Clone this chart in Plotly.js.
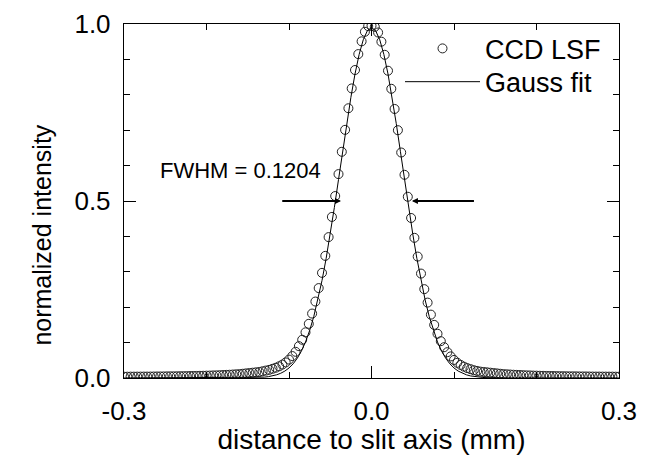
<!DOCTYPE html>
<html>
<head>
<meta charset="utf-8">
<script src="https://cdn.plot.ly/plotly-3.0.1.min.js"></script>
<style>html,body{margin:0;padding:0;background:#fff;}#chart{width:646px;height:455px;}</style>
</head>
<body>
<div id="chart"></div>
<script>
// Measured line-spread-function (CCD LSF), x in mm
const lsfX = [-0.300,-0.296,-0.292,-0.288,-0.284,-0.280,-0.276,-0.272,-0.268,-0.264,-0.260,-0.256,-0.252,-0.248,-0.244,-0.240,-0.236,-0.232,-0.228,-0.224,-0.220,-0.216,-0.212,-0.208,-0.204,-0.200,-0.196,-0.192,-0.188,-0.184,-0.180,-0.176,-0.172,-0.168,-0.164,-0.160,-0.156,-0.152,-0.148,-0.144,-0.140,-0.136,-0.132,-0.128,-0.124,-0.120,-0.116,-0.112,-0.108,-0.104,-0.100,-0.096,-0.092,-0.088,-0.084,-0.080,-0.076,-0.072,-0.068,-0.064,-0.060,-0.056,-0.052,-0.048,-0.044,-0.040,-0.036,-0.032,-0.028,-0.024,-0.020,-0.016,-0.012,-0.008,-0.004,0.000,0.004,0.008,0.012,0.016,0.020,0.024,0.028,0.032,0.036,0.040,0.044,0.048,0.052,0.056,0.060,0.064,0.068,0.072,0.076,0.080,0.084,0.088,0.092,0.096,0.100,0.104,0.108,0.112,0.116,0.120,0.124,0.128,0.132,0.136,0.140,0.144,0.148,0.152,0.156,0.160,0.164,0.168,0.172,0.176,0.180,0.184,0.188,0.192,0.196,0.200,0.204,0.208,0.212,0.216,0.220,0.224,0.228,0.232,0.236,0.240,0.244,0.248,0.252,0.256,0.260,0.264,0.268,0.272,0.276,0.280,0.284,0.288,0.292,0.296,0.300];
const lsfY = [0.0037,0.0037,0.0038,0.0038,0.0039,0.0039,0.0040,0.0040,0.0041,0.0042,0.0043,0.0044,0.0045,0.0046,0.0047,0.0048,0.0049,0.0050,0.0052,0.0053,0.0055,0.0057,0.0058,0.0061,0.0063,0.0066,0.0068,0.0072,0.0075,0.0079,0.0083,0.0088,0.0092,0.0098,0.0104,0.011,0.012,0.013,0.014,0.015,0.016,0.017,0.019,0.021,0.023,0.026,0.029,0.033,0.038,0.044,0.052,0.062,0.074,0.090,0.108,0.129,0.153,0.182,0.216,0.254,0.297,0.345,0.398,0.455,0.514,0.576,0.639,0.701,0.762,0.818,0.870,0.915,0.951,0.978,0.994,0.995,0.992,0.976,0.950,0.913,0.868,0.817,0.760,0.700,0.637,0.574,0.512,0.452,0.396,0.343,0.295,0.251,0.213,0.179,0.150,0.125,0.104,0.087,0.073,0.061,0.051,0.043,0.037,0.032,0.028,0.025,0.022,0.020,0.018,0.017,0.016,0.015,0.014,0.013,0.012,0.011,0.0104,0.0098,0.0092,0.0088,0.0083,0.0079,0.0075,0.0072,0.0068,0.0066,0.0063,0.0061,0.0058,0.0057,0.0055,0.0053,0.0052,0.0050,0.0049,0.0048,0.0047,0.0046,0.0045,0.0044,0.0043,0.0042,0.0041,0.0040,0.0040,0.0039,0.0039,0.0038,0.0038,0.0037,0.0037];
// Gauss fit curve
const fitX = [-0.300,-0.150,-0.145,-0.140,-0.135,-0.130,-0.125,-0.120,-0.115,-0.110,-0.105,-0.100,-0.095,-0.090,-0.085,-0.080,-0.075,-0.070,-0.065,-0.060,-0.055,-0.050,-0.045,-0.040,-0.035,-0.030,-0.025,-0.020,-0.015,-0.010,-0.005,0.000,0.005,0.010,0.015,0.020,0.025,0.030,0.035,0.040,0.045,0.050,0.055,0.060,0.065,0.070,0.075,0.080,0.085,0.090,0.095,0.100,0.105,0.110,0.115,0.120,0.125,0.130,0.135,0.140,0.145,0.150,0.300];
const fitY = [0.0,0.0003,0.0006,0.0009,0.0015,0.0024,0.0038,0.0059,0.0090,0.0134,0.0196,0.0283,0.0400,0.0556,0.0758,0.1017,0.1340,0.1734,0.2204,0.2753,0.3377,0.4070,0.4819,0.5605,0.6404,0.7189,0.7927,0.8588,0.9139,0.9554,0.9812,0.9900,0.9812,0.9554,0.9139,0.8588,0.7927,0.7189,0.6404,0.5605,0.4819,0.4070,0.3377,0.2753,0.2204,0.1734,0.1340,0.1017,0.0758,0.0556,0.0400,0.0283,0.0196,0.0134,0.0090,0.0059,0.0038,0.0024,0.0015,0.0009,0.0006,0.0003,0.0];
const seriesNames = ["CCD LSF", "Gauss fit"];
const fwhmText = "FWHM = 0.1204";
const halfLevel = 0.5;
const arrowLeft = {tip: -0.037, tail: -0.110};
const arrowRight = {tip: 0.049, tail: 0.126};

const FONT = "Liberation Sans, Arial, Helvetica, sans-serif";

const traces = [
  {x: lsfX, y: lsfY, name: seriesNames[0], type: 'scatter', mode: 'markers', legend: 'legend',
   marker: {symbol: 'circle-open', size: 9, color: '#222', line: {width: 1, color: '#222'}}},
  {x: fitX, y: fitY, name: seriesNames[1], type: 'scatter', mode: 'lines', legend: 'legend2',
   line: {color: '#000', width: 1}}
];

const axisCommon = {
  showline: true, linecolor: '#000', linewidth: 1, mirror: 'allticks',
  ticks: 'inside', ticklen: 12, tickwidth: 1, tickcolor: '#000',
  showgrid: false, zeroline: false, tickmode: 'linear', tick0: 0, tickformat: '.1f',
  tickfont: {family: FONT, size: 26, color: '#000'},
  minor: {ticks: 'inside', ticklen: 6, tickwidth: 1, tickcolor: '#000', tick0: 0, dtick: 0.1, showgrid: false}
};

const legendCommon = {xanchor: 'left', yanchor: 'top', bgcolor: 'rgba(0,0,0,0)',
  font: {family: FONT, size: 27, color: '#000'}, itemwidth: 75};

const layout = {
  width: 646, height: 455,
  margin: {l: 124, r: 27, t: 24, b: 77},
  paper_bgcolor: '#fff', plot_bgcolor: '#fff',
  showlegend: true,
  legend: Object.assign({x: 0.5576, y: 0.999}, legendCommon),
  legend2: Object.assign({x: 0.5576, y: 0.905}, legendCommon),
  xaxis: Object.assign({}, axisCommon, {
    range: [-0.3, 0.3], dtick: 0.3, ticklabelstandoff: 10,
    labelalias: {'\u22120.3': '-0.3'},
    title: {text: 'distance to slit axis (mm)', font: {family: FONT, size: 28, color: '#000'}, standoff: 2}
  }),
  yaxis: Object.assign({}, axisCommon, {
    range: [0, 1], dtick: 0.5, ticksuffix: '\u00a0',
    title: {text: ''}
  }),
  annotations: [
    {x: -0.1657, y: 0.405, xref: 'paper', yref: 'paper', text: 'normalized intensity', textangle: -90,
     showarrow: false, font: {family: FONT, size: 25, color: '#000'}, xanchor: 'center', yanchor: 'middle'},
    {x: -0.159, y: 0.585, xref: 'x', yref: 'y', text: fwhmText, showarrow: false,
     font: {family: FONT, size: 22, color: '#000'}, xanchor: 'center', yanchor: 'middle'},
    {x: arrowLeft.tip, y: halfLevel, ax: arrowLeft.tail, ay: halfLevel, xref: 'x', yref: 'y', axref: 'x', ayref: 'y',
     text: '', showarrow: true, arrowhead: 2, arrowsize: 0.6, arrowwidth: 2, arrowcolor: '#000'},
    {x: arrowRight.tip, y: halfLevel, ax: arrowRight.tail, ay: halfLevel, xref: 'x', yref: 'y', axref: 'x', ayref: 'y',
     text: '', showarrow: true, arrowhead: 2, arrowsize: 0.6, arrowwidth: 2, arrowcolor: '#000'}
  ]
};

Plotly.newPlot('chart', traces, layout, {staticPlot: true, displayModeBar: false});
</script>
</body>
</html>
